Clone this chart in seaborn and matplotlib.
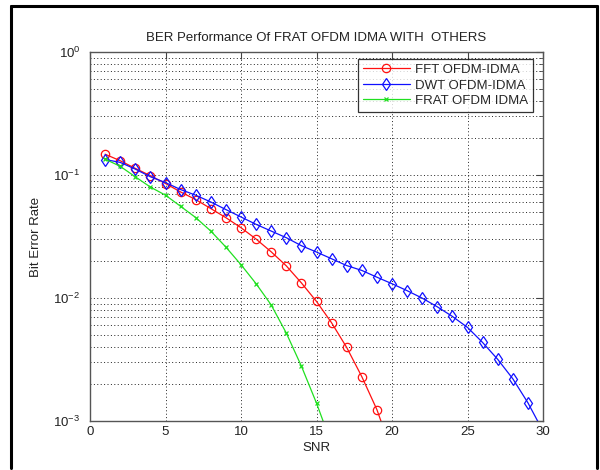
import matplotlib
matplotlib.use("Agg")
import matplotlib.pyplot as plt
import seaborn as sns
import pandas as pd
from matplotlib.lines import Line2D
from matplotlib.ticker import LogLocator, FixedLocator

# values (BER vs SNR)
snr_fft = list(range(1, 21))
ber_fft = [0.148, 0.131, 0.1135, 0.099, 0.0855, 0.073, 0.0633, 0.0535, 0.0451, 0.0374,
           0.0302, 0.0238, 0.0183, 0.0133, 0.0094, 0.0063, 0.00397, 0.0023, 0.00124, 0.00056]

snr_dwt = list(range(1, 31))
ber_dwt = [0.134, 0.127, 0.112, 0.097, 0.087, 0.0764, 0.0687, 0.0605, 0.0525, 0.0457,
           0.0398, 0.0351, 0.031, 0.0267, 0.0237, 0.0209, 0.0184, 0.0168, 0.0148, 0.0131,
           0.0115, 0.0100, 0.0085, 0.0071, 0.00578, 0.00436, 0.00318, 0.00221, 0.00141, 0.00083]

snr_frat = list(range(1, 17))
ber_frat = [0.135, 0.118, 0.097, 0.080, 0.0687, 0.0558, 0.0452, 0.0351, 0.026, 0.0187,
            0.0131, 0.0088, 0.0052, 0.0028, 0.0014, 0.00065]

labels = ["FFT OFDM-IDMA", "DWT OFDM-IDMA", "FRAT OFDM IDMA"]

sns.set_style("white")
plt.rcParams['font.family'] = ['Liberation Sans', 'DejaVu Sans']
plt.rcParams['mathtext.fontset'] = 'custom'
plt.rcParams['mathtext.rm'] = 'Liberation Sans'

fig = plt.figure(figsize=(6, 4.7), dpi=100)
ax = fig.add_axes([0.15, 0.104, 0.755, 0.785])

series = [
    (snr_fft, ber_fft, labels[0], "#ff1010", "o", 6),
    (snr_dwt, ber_dwt, labels[1], "#1010ff", "d", 6),
    (snr_frat, ber_frat, labels[2], "#20e020", "x", 3.5),
]
for xs, ys, lab, col, mk, ms in series:
    df = pd.DataFrame({"SNR": xs, "BER": ys})
    sns.lineplot(data=df, x="SNR", y="BER", ax=ax, color=col, marker=mk,
                 markersize=ms, markerfacecolor="none", markeredgecolor=col,
                 markeredgewidth=0.9, linewidth=0.9, label=lab, clip_on=True)

ax.set_yscale("log")
ax.set_xlim(0, 30)
ax.set_ylim(1e-3, 1)
ax.xaxis.set_major_locator(FixedLocator([0, 5, 10, 15, 20, 25, 30]))
ax.yaxis.set_major_locator(LogLocator(base=10, numticks=10))
ax.yaxis.set_minor_locator(LogLocator(base=10, subs=range(2, 10), numticks=20))
ax.yaxis.set_minor_formatter(matplotlib.ticker.NullFormatter())

ax.grid(True, which="major", axis="both", linestyle=(0, (1, 2.5)), color="#222222", linewidth=0.7)
ax.grid(True, which="minor", axis="y", linestyle=(0, (1, 2.5)), color="#222222", linewidth=0.7)
ax.set_axisbelow(True)

ax.tick_params(which="both", direction="in", top=True, right=True, labelsize=9.5,
               color="#444444", labelcolor="#222222")
ax.tick_params(which="major", length=5)
ax.tick_params(which="minor", length=3)
ax.tick_params(axis="y", pad=7)
for sp in ax.spines.values():
    sp.set_color("#555555")
    sp.set_linewidth(1.0)

ax.set_xlabel("SNR", fontsize=9.5, color="#222222", labelpad=3)
ax.set_ylabel("Bit Error Rate", fontsize=9.5, color="#222222", labelpad=8)
ax.set_title("BER Performance Of FRAT OFDM IDMA WITH  OTHERS", fontsize=9.5,
             color="#222222", pad=8)

leg = ax.legend(loc="upper right", bbox_to_anchor=(0.978, 0.981), fontsize=9.5,
                frameon=True, fancybox=False, edgecolor="#000000", handlelength=3.6,
                borderpad=0.35, labelspacing=0.25, handletextpad=0.4, borderaxespad=0)
leg.get_frame().set_linewidth(0.9)

# outer black frame of the screenshot
for xs, ys in [((0.019, 0.019), (0.005, 0.988)), ((0.019, 0.995), (0.988, 0.988)),
               ((0.995, 0.995), (0.005, 0.988))]:
    fig.add_artist(Line2D(xs, ys, color="black", linewidth=2.2, transform=fig.transFigure))

fig.savefig("out.png", dpi=100)
